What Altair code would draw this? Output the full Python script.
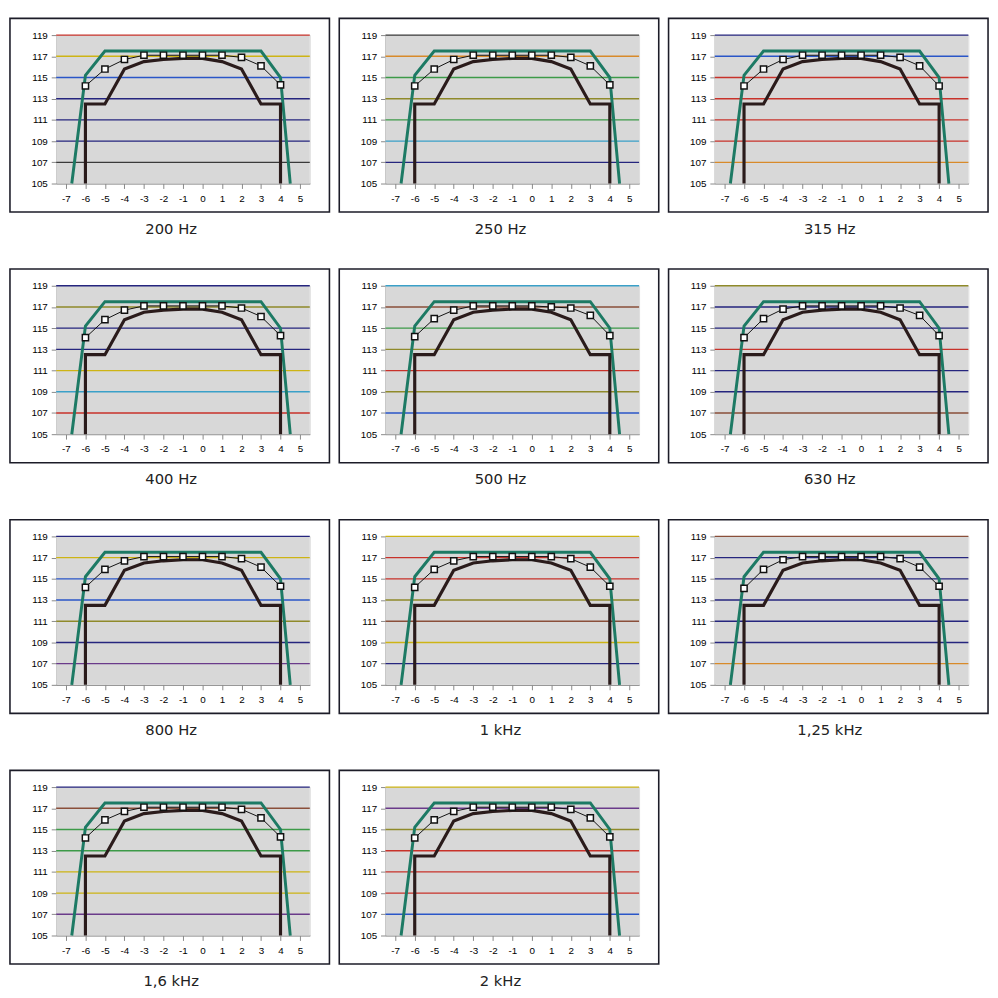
import altair as alt
import pandas as pd

panels = ["200 Hz", "250 Hz", "315 Hz", "400 Hz", "500 Hz", "630 Hz",
          "800 Hz", "1 kHz", "1,25 kHz", "1,6 kHz", "2 kHz"]

# upper tolerance limit (green)
upper_x = [-6.7, -6, -5, 3, 4, 4.5]
upper_y = [105, 115.2, 117.5, 117.5, 115.0, 105]

# lower tolerance limit (black)
lower_x = [-6, -6, -5, -4, -3, -2, -1, 0, 1, 2, 3, 4, 4]
lower_y = [105, 112.5, 112.5, 115.8, 116.5, 116.7, 116.8, 116.8, 116.5, 115.8, 112.5, 112.5, 105]

# measured curve (white squares)
meas_x = [-6, -5, -4, -3, -2, -1, 0, 1, 2, 3, 4]
meas_y = {
    "200 Hz":   [114.2, 115.8, 116.7, 117.1, 117.1, 117.1, 117.1, 117.1, 116.9, 116.1, 114.3],
    "250 Hz":   [114.2, 115.8, 116.7, 117.1, 117.1, 117.1, 117.1, 117.1, 116.9, 116.1, 114.3],
    "315 Hz":   [114.2, 115.8, 116.7, 117.1, 117.1, 117.1, 117.1, 117.1, 116.9, 116.1, 114.2],
    "400 Hz":   [114.1, 115.8, 116.7, 117.1, 117.1, 117.1, 117.1, 117.1, 116.9, 116.1, 114.3],
    "500 Hz":   [114.2, 115.9, 116.7, 117.1, 117.1, 117.1, 117.1, 117.0, 116.9, 116.2, 114.3],
    "630 Hz":   [114.1, 115.9, 116.8, 117.1, 117.1, 117.1, 117.1, 117.1, 116.9, 116.2, 114.3],
    "800 Hz":   [114.2, 115.9, 116.7, 117.1, 117.1, 117.1, 117.1, 117.1, 116.9, 116.1, 114.3],
    "1 kHz":    [114.2, 115.9, 116.7, 117.1, 117.1, 117.1, 117.1, 117.1, 116.9, 116.1, 114.3],
    "1,25 kHz": [114.1, 115.9, 116.8, 117.1, 117.1, 117.1, 117.1, 117.1, 116.9, 116.1, 114.3],
    "1,6 kHz":  [114.2, 115.9, 116.7, 117.1, 117.1, 117.1, 117.1, 117.1, 116.9, 116.1, 114.3],
    "2 kHz":    [114.2, 115.9, 116.7, 117.1, 117.1, 117.1, 117.1, 117.1, 116.9, 116.1, 114.3],
}

y_ticks = [105, 107, 109, 111, 113, 115, 117, 119]
x_ticks = [-7, -6, -5, -4, -3, -2, -1, 0, 1, 2, 3, 4, 5]

grid_levels = [119, 117, 115, 113, 111, 109, 107]
R, Yl, B, N, G, O = "#c8322a", "#cdb415", "#2a56c8", "#25257e", "#3c9a48", "#8f8a2a"
OR, BR, P, C, D = "#d88a2a", "#8a4f3a", "#6a3a8a", "#3aa0c8", "#3a3a3a"
grid_colors = {
    "200 Hz":   [R, Yl, B, N, N, N, D],
    "250 Hz":   [D, OR, G, O, G, C, N],
    "315 Hz":   [N, B, R, R, R, R, OR],
    "400 Hz":   [N, O, N, N, Yl, C, R],
    "500 Hz":   [C, BR, G, O, R, O, B],
    "630 Hz":   [O, N, N, R, N, N, BR],
    "800 Hz":   [N, Yl, B, B, O, N, P],
    "1 kHz":    [Yl, R, R, O, BR, Yl, N],
    "1,25 kHz": [BR, N, N, N, N, N, OR],
    "1,6 kHz":  [N, BR, G, G, Yl, Yl, P],
    "2 kHz":    [Yl, P, O, R, R, R, B],
}

W, H = 258, 151

xs = alt.Scale(domain=[-7.5, 5.5], nice=False, zero=False)
ys = alt.Scale(domain=[105, 119], nice=False, zero=False)
xaxis = alt.Axis(values=x_ticks, labelPadding=5, labelExpr="'' + datum.value", title=None)
yaxis = alt.Axis(values=y_ticks, labelPadding=4, labelExpr="'' + datum.value", title=None)

udf = pd.DataFrame({"x": upper_x, "y": upper_y, "i": range(len(upper_x))})
ldf = pd.DataFrame({"x": lower_x, "y": lower_y, "i": range(len(lower_x))})


def panel(name):
    one = pd.DataFrame({"t": [name]})
    bg = alt.Chart(one).mark_rect(color="#d8d8d8").encode(
        x=alt.value(0), x2=alt.value(W), y=alt.value(0), y2=alt.value(H))
    gdf = pd.DataFrame({"y": grid_levels, "c": grid_colors[name]})
    grid = alt.Chart(gdf).mark_rule(strokeWidth=1.4).encode(
        y=alt.Y("y:Q", scale=ys, axis=yaxis),
        color=alt.Color("c:N", scale=None),
    )
    up = alt.Chart(udf).mark_line(color="#1d7a64", strokeWidth=3).encode(
        x=alt.X("x:Q", scale=xs, axis=xaxis),
        y=alt.Y("y:Q", scale=ys, axis=yaxis),
        order="i:Q",
    )
    lo = alt.Chart(ldf).mark_line(color="#2a1b1b", strokeWidth=3.2).encode(
        x=alt.X("x:Q", scale=xs, axis=xaxis),
        y=alt.Y("y:Q", scale=ys, axis=yaxis),
        order="i:Q",
    )
    mdf = pd.DataFrame({"x": meas_x, "y": meas_y[name]})
    me = alt.Chart(mdf).mark_line(
        color="#111111", strokeWidth=1,
        point=alt.OverlayMarkDef(shape="square", filled=True, fill="white",
                                 stroke="#111111", strokeWidth=1.5, size=40),
    ).encode(x=alt.X("x:Q", scale=xs, axis=xaxis), y=alt.Y("y:Q", scale=ys, axis=yaxis))
    frame = alt.Chart(one).mark_rect(
        fillOpacity=0, stroke="#1c1c28", strokeWidth=1.6
    ).encode(x=alt.value(-47), x2=alt.value(W + 20), y=alt.value(-17), y2=alt.value(H + 29))
    label = alt.Chart(one).mark_text(
        font="DejaVu Sans", fontSize=15, color="#222222"
    ).encode(x=alt.value(117), y=alt.value(197), text="t:N")
    return alt.layer(bg, grid, up, lo, me, frame, label).properties(width=W, height=H)


rows = [panels[i:i + 3] for i in range(0, len(panels), 3)]
chart = alt.vconcat(
    *[alt.hconcat(*[panel(p) for p in row], spacing=6) for row in rows],
    spacing=30,
).properties(padding=0).configure_view(
    stroke="#555555", strokeWidth=1
).configure_axis(
    labelFont="Liberation Sans", labelFontSize=9, labelFontWeight="bold",
    labelColor="#1a1a1a", domainColor="#111111", domainWidth=1.5,
    tickColor="#111111", tickSize=3, grid=False,
    labelOverlap=False, labelBound=False, labelFlush=False,
).configure(background="white")

chart.save("out.html", embed_options={"renderer": "svg", "actions": False})
